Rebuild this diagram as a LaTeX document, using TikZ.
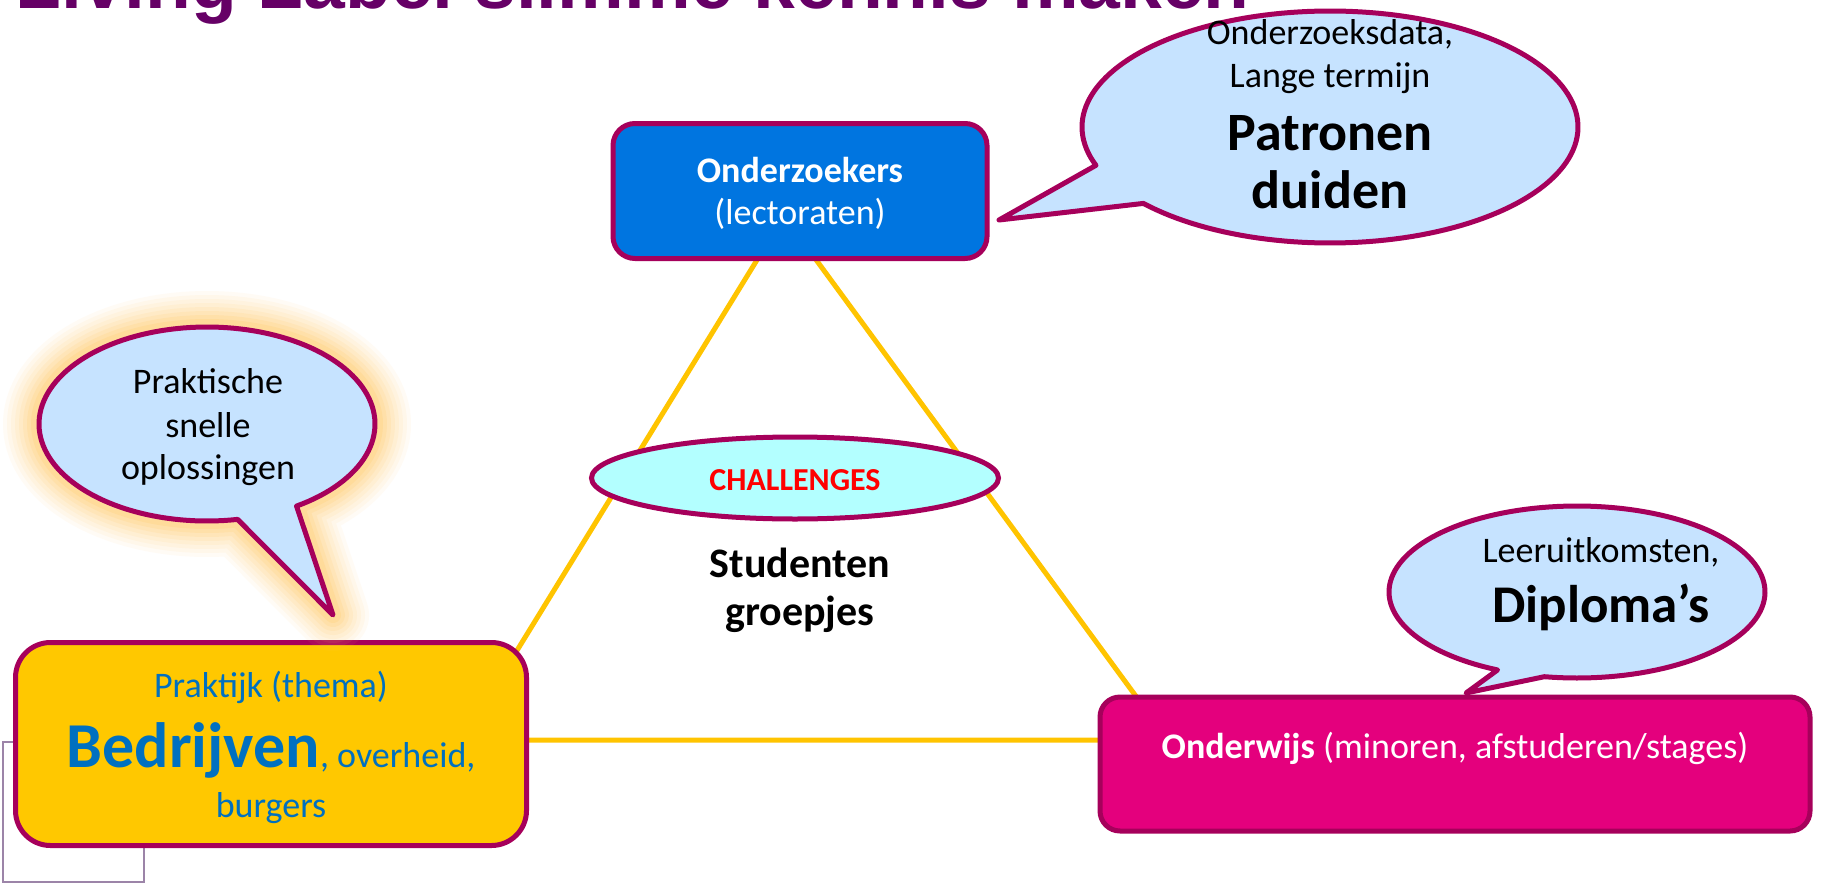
\documentclass[tikz,border=0pt]{standalone}
\usepackage{fontspec}
\setmainfont{Carlito}
\newfontfamily\titlefont{Liberation Sans}
\usetikzlibrary{shapes.geometric}
\newcommand{\fsz}[1]{\fontsize{#1}{#1}\selectfont}
\definecolor{bord}{HTML}{A6005B}
\definecolor{bluefill}{HTML}{0075E0}
\definecolor{bubblefill}{HTML}{C6E3FF}
\definecolor{challfill}{HTML}{B3FFFF}
\definecolor{yellowfill}{HTML}{FFC800}
\definecolor{pinkfill}{HTML}{E4007D}
\definecolor{linec}{HTML}{FFC400}
\definecolor{titlec}{HTML}{660066}
\definecolor{praktc}{HTML}{0070C0}
\definecolor{glowc}{HTML}{FFC860}
\definecolor{thinc}{HTML}{9C84A8}
\begin{document}
\begin{tikzpicture}[x=1pt,y=-1pt,
  every node/.style={inner sep=0pt,outer sep=0pt},
  txt/.style={anchor=base,inner sep=0pt},
  boxshape/.style={draw=bord,line width=5pt,rectangle},
  bubble/.style={draw=bord,fill=bubblefill,line width=5pt,line join=round},
  tri/.style={draw=linec,line width=5pt,line join=round},
  thinrect/.style={draw=thinc,line width=1.5pt}]
\useasboundingbox (0,0) rectangle (1822,883);
\fill[white] (0,0) rectangle (1822,883);
\clip (0,0) rectangle (1822,883);

% title (cut at top)
\node[txt,anchor=base west,text=titlec] (title) at (16,9)
  {\titlefont\bfseries\fsz{75}Living Label slimme kennis maken};

% thin rectangle behind the left box
\draw[thinrect] (3,742) rectangle (144,882);

% triangle
\coordinate (tA) at (784,216);
\coordinate (tB) at (462,740);
\coordinate (tC) at (1168,740);
\draw[tri] (tA) -- (tB) -- (tC) -- cycle;

% boxes
\node[boxshape,fill=yellowfill,rounded corners=35pt,minimum width=511pt,minimum height=203pt] (praktijk) at (271,744) {};
\node[boxshape,fill=bluefill,rounded corners=22pt,minimum width=374pt,minimum height=135pt] (onderzoekers) at (800,191) {};
\node[boxshape,fill=pinkfill,rounded corners=20pt,minimum width=710pt,minimum height=134pt] (onderwijs) at (1455,764) {};

% challenges ellipse
\node[draw=bord,fill=challfill,ellipse,line width=5pt,minimum width=407pt,minimum height=82pt] (challenges) at (795,478) {};

% left bubble with glow
\foreach \w/\o in {72/0.06,64/0.07,56/0.08,48/0.09,40/0.11,32/0.13,24/0.16,16/0.2}
  \draw[glowc,line width=\w pt,opacity=\o,line join=round]
    plot[domain=79.5:417.8,samples=140] ({207+168*cos(\x)},{424+97*sin(\x)}) -- (333,615) -- cycle;
\draw[bubble] plot[domain=79.5:417.8,samples=140] ({207+168*cos(\x)},{424+97*sin(\x)}) -- (333,615) -- cycle;

% top-right bubble
\draw[bubble] plot[domain=160.7:498.8,samples=160] ({1330+248*cos(\x)},{127+116*sin(\x)}) -- (999,220) -- cycle;

% bottom-right bubble
\draw[bubble] plot[domain=115:460,samples=140] ({1577+188*cos(\x)},{592+86*sin(\x)}) -- (1466,693) -- cycle;

% texts
\node[txt,text=white] (onz1) at (800,182) {\fsz{36}\bfseries Onderzoekers};
\node[txt,text=white] (onz2) at (800,224) {\fsz{36}(lectoraten)};

\node[txt,text=praktc] (pr1) at (271,697) {\fsz{36}Praktijk (thema)};
\node[txt,text=praktc] (pr2) at (271,767) {{\fsz{64}\bfseries Bedrijven}\fsz{36}, overheid,};
\node[txt,text=praktc] (pr3) at (271,817) {\fsz{36}burgers};

\node[txt,text=white] (ow1) at (1455,758) {\fsz{36}{\bfseries Onderwijs} (minoren, afstuderen/stages)};

\node[txt,text=red] (ch) at (795,490) {\fsz{32}\bfseries CHALLENGES};
\node[txt] (st1) at (800,577) {\fsz{42}\bfseries Studenten};
\node[txt] (st2) at (800,625) {\fsz{42}\bfseries groepjes};

\node[txt] (lb1) at (208,393) {\fsz{36}Praktische};
\node[txt] (lb2) at (208,437) {\fsz{36}snelle};
\node[txt] (lb3) at (208,479) {\fsz{36}oplossingen};

\node[txt] (tb1) at (1330,45) {\fsz{36}Onderzoeksdata,};
\node[txt] (tb2) at (1330,88) {\fsz{36}Lange termijn};
\node[txt] (tb3) at (1330,150) {\fsz{54}\bfseries Patronen};
\node[txt] (tb4) at (1330,208) {\fsz{54}\bfseries duiden};

\node[txt] (br1) at (1601,562) {\fsz{36}Leeruitkomsten,};
\node[txt] (br2) at (1601,622) {\fsz{53}\bfseries Diploma’s};
\end{tikzpicture}
\end{document}
